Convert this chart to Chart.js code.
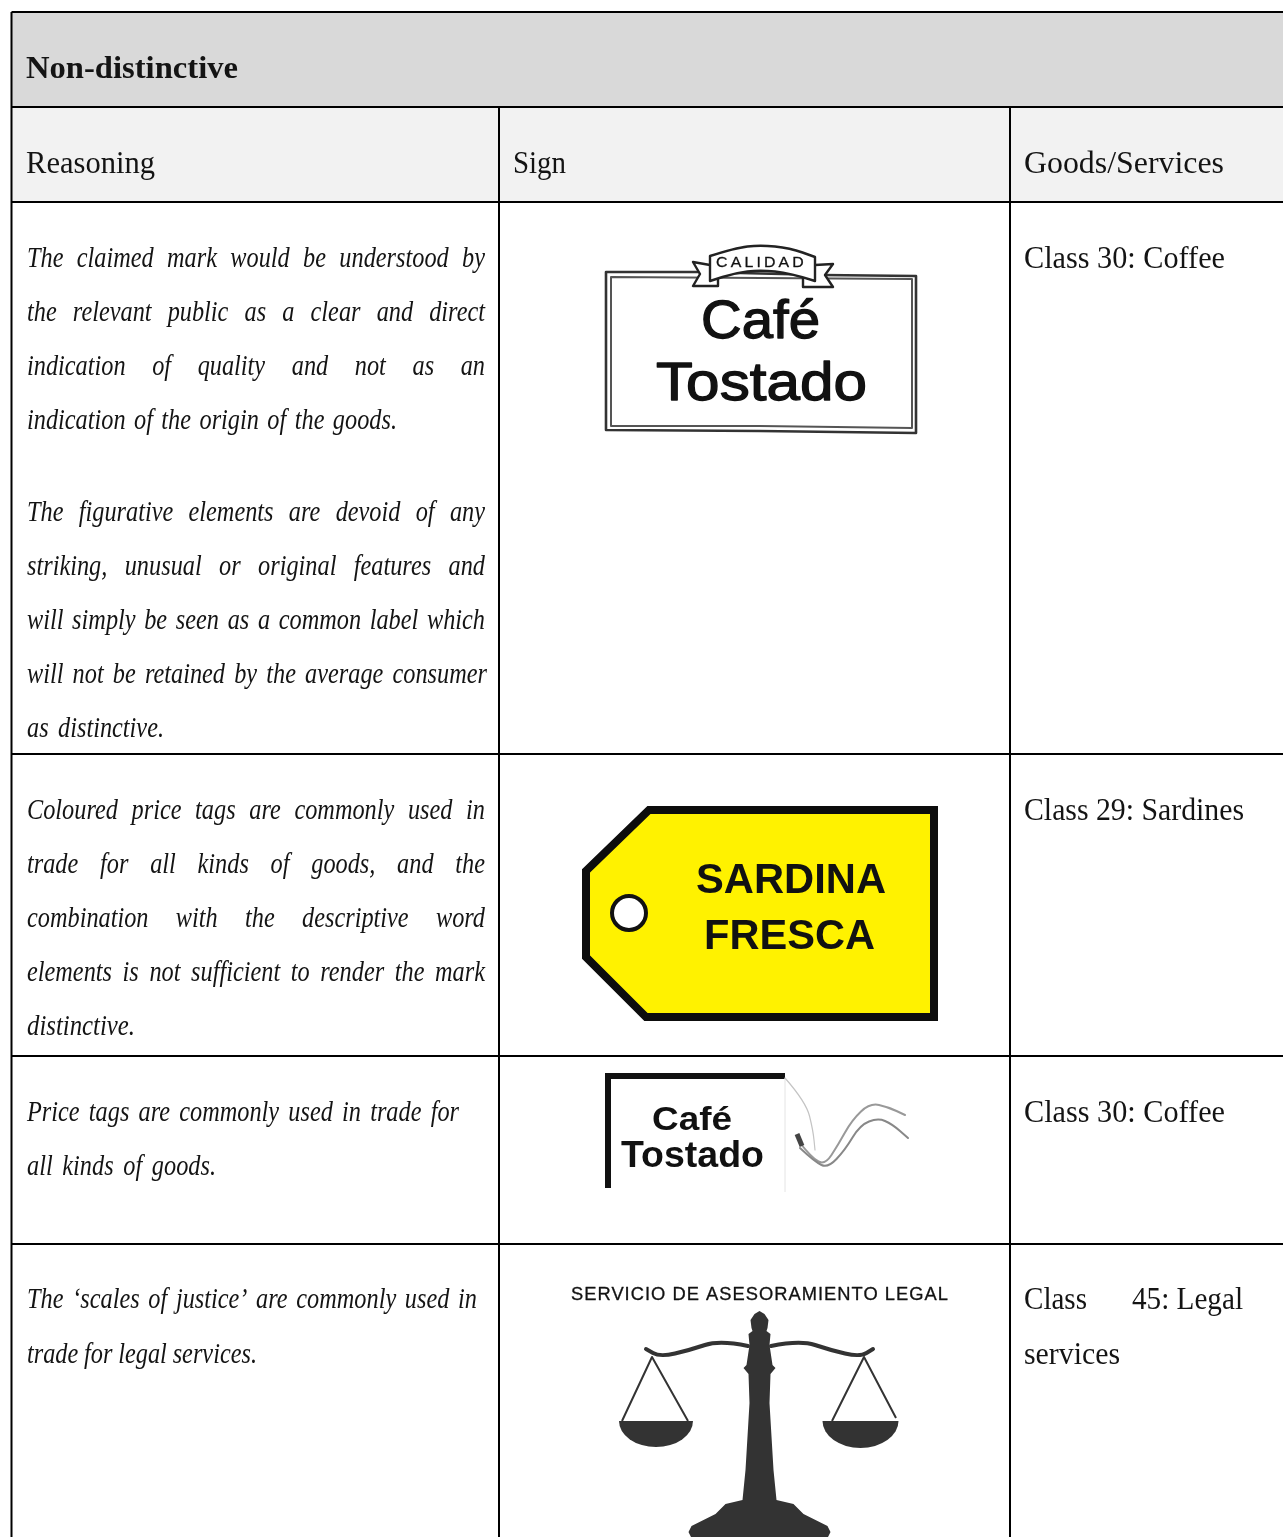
<!DOCTYPE html>
<html><head><meta charset="utf-8">
<style>html,body{margin:0;padding:0;background:#fff;overflow:hidden}canvas{display:block}</style>
<script src="https://cdn.jsdelivr.net/npm/chart.js@4"></script>
</head><body><canvas id="c" width="1283" height="1537"></canvas>
<script>
const columnEdges=[11.5,499,1010];
const rowEdges=[12,107,202,754,1056,1244];
const titleRow=[["Non-distinctive",26,238,78]];
const headerRow=[["Reasoning",26,155,173],["Sign",513,566,173],["Goods/Services",1024,1224,173]];
const reasoningLines=[
["The claimed mark would be understood by",27,485,267],
["the relevant public as a clear and direct",27,485,321],
["indication of quality and not as an",27,485,375],
["indication of the origin of the goods.",27,397,429],
["The figurative elements are devoid of any",27,485,521],
["striking, unusual or original features and",27,485,575],
["will simply be seen as a common label which",27,485,629],
["will not be retained by the average consumer",27,487,683],
["as distinctive.",27,164,737],
["Coloured price tags are commonly used in",27,485,819],
["trade for all kinds of goods, and the",27,485,873],
["combination with the descriptive word",27,485,927],
["elements is not sufficient to render the mark",27,485,981],
["distinctive.",27,135,1035],
["Price tags are commonly used in trade for",27,459,1121],
["all kinds of goods.",27,216,1175],
["The ‘scales of justice’ are commonly used in",27,477,1308],
["trade for legal services.",27,257,1363]];
const goodsLines=[
["Class 30: Coffee",1024,1225,268],
["Class 29: Sardines",1024,1244,820],
["Class 30: Coffee",1024,1225,1122],
["Class",1024,1087,1309],["45: Legal",1132,1243,1309],
["services",1024,1120,1364]];
const signTexts=[
["CALIDAD",716,807,267,"15px 'Liberation Sans'",0.3,3],
["Café",701,820,338,"54px 'Liberation Sans'",1.3,0],
["Tostado",656,867,400,"54px 'Liberation Sans'",1.3,0],
["SARDINA",696,886,893,"bold 43px 'Liberation Sans'",0,0],
["FRESCA",704,875,949,"bold 43px 'Liberation Sans'",0,0],
["Café",652,732,1130,"bold 33px 'Liberation Sans'",0,0],
["Tostado",621,764,1167,"bold 36px 'Liberation Sans'",0,0],
["SERVICIO DE ASESORAMIENTO LEGAL",571,949,1300,"18px 'Liberation Sans'",0.3,1]];
const frameOuter=[[606,272],[700,272],[822,275],[916,276],[916,433],[760,431],[606,430]];
const frameInner=[[611,277],[912,279],[912,428],[760,426],[611,426]];
const ribbonTop=[[710,256],[735,248],[760,245],[790,248],[815,257]];
const ribbonBottom=[[815,281],[790,273],[760,270],[735,273],[710,281]];
const ribbonTailL=[[710,265],[693,262],[700,274],[693,286],[718,286],[718,277]];
const ribbonTailR=[[815,265],[833,264],[825,275],[833,287],[803,287],[803,277]];
const tagOutline=[[649,810],[934,810],[934,1017],[646,1017],[586,957],[586,871]];
const tagHole=[629,913,17];
const tagCorner=[[605,1076],[785,1076]];
const tagEdge=[[608,1076],[608,1188]];
const tagFaint=[[785,1078],[785,1192]];
const tagFold=[[785,1078],[806,1102],[813,1130],[815,1150]];
const stringA=[[800,1143],[812,1158],[825,1165],[838,1145],[852,1120],[870,1103],[888,1107],[905,1115]];
const stringB=[[800,1148],[815,1162],[828,1168],[845,1150],[860,1125],[878,1118],[892,1124],[908,1138]];
const scaleCx=759.5;
const scaleHalf=[[0,1311],[5,1314],[9,1320],[8,1328],[7,1331],[11,1334],[10,1345],[13,1365],[16,1368],[11,1374],[10,1403],[14,1470],[17,1500],[34,1504],[44,1514],[58,1521],[68,1526],[71,1532],[67,1540],[0,1540]];
const beamL=[[748,1346],[720,1340],[690,1350],[660,1357],[646,1349]];
const beamR=[[771,1346],[800,1340],[830,1350],[860,1357],[873,1349]];
const stringsL=[[622,1421],[652,1357],[688,1421]];
const stringsR=[[832,1421],[864,1357],[896,1418]];
const pans=[[656,1421,37,26],[860.5,1421,38,27]];

function rulesData(){
  const pts=[];
  rowEdges.forEach(y=>{pts.push({x:columnEdges[0],y},{x:1283,y},{x:null,y:null});});
  pts.push({x:columnEdges[0],y:rowEdges[0]},{x:columnEdges[0],y:1537},{x:null,y:null});
  columnEdges.slice(1).forEach(x=>{pts.push({x,y:rowEdges[1]},{x,y:1537},{x:null,y:null});});
  return pts;
}
const ink='#141414';
const tablePlugin={id:'table',
 beforeDatasetsDraw(ch){
  const c=ch.ctx,X=ch.scales.x,Y=ch.scales.y,px=v=>X.getPixelForValue(v),py=v=>Y.getPixelForValue(v);
  c.save();
  c.fillStyle='#d9d9d9';c.fillRect(px(columnEdges[0]),py(rowEdges[0]),px(1283)-px(columnEdges[0]),py(rowEdges[1])-py(rowEdges[0]));
  c.fillStyle='#f2f2f2';c.fillRect(px(columnEdges[0]),py(rowEdges[1]),px(1283)-px(columnEdges[0]),py(rowEdges[2])-py(rowEdges[1]));
  c.restore();
 },
 afterDatasetsDraw(ch){
  const c=ch.ctx,X=ch.scales.x,Y=ch.scales.y,px=v=>X.getPixelForValue(v),py=v=>Y.getPixelForValue(v);
  const fit=(t,x0,x1,y,font,squeeze,bold,spacing)=>{
    c.save();c.font=font;c.textBaseline='alphabetic';c.textAlign='left';
    if(spacing)c.letterSpacing=spacing+'px';
    const n=t.split(' ').length;const w=c.measureText(t).width;let k=(px(x1)-px(x0))/w;
    if(squeeze&&n>1){k=squeeze;const extra=((px(x1)-px(x0))/k-w)/(n-1);c.wordSpacing=extra+'px';}
    c.translate(px(x0),py(y));c.scale(k,1);
    if(bold){c.lineWidth=bold;c.strokeStyle=c.fillStyle;c.lineJoin='round';c.strokeText(t,0,0);}
    c.fillText(t,0,0);c.restore();
  };
  c.fillStyle=ink;
  titleRow.forEach(r=>fit(r[0],r[1],r[2],r[3],"bold 31px 'Liberation Serif'"));
  headerRow.forEach(r=>fit(r[0],r[1],r[2],r[3],"31px 'Liberation Serif'"));
  goodsLines.forEach(r=>fit(r[0],r[1],r[2],r[3],"31px 'Liberation Serif'"));
  reasoningLines.forEach(r=>fit(r[0],r[1],r[2],r[3],"italic 30px 'Liberation Serif'",0.81));
  const path=(pts,close)=>{c.beginPath();pts.forEach((p,i)=>i?c.lineTo(px(p[0]),py(p[1])):c.moveTo(px(p[0]),py(p[1])));if(close)c.closePath();};
  const smooth=(pts)=>{c.beginPath();c.moveTo(px(pts[0][0]),py(pts[0][1]));
    for(let i=1;i<pts.length-1;i++){const mx=(pts[i][0]+pts[i+1][0])/2,my=(pts[i][1]+pts[i+1][1])/2;c.quadraticCurveTo(px(pts[i][0]),py(pts[i][1]),px(mx),py(my));}
    const l=pts[pts.length-1];c.lineTo(px(l[0]),py(l[1]));};
  const sstroke=(pts,w,col)=>{smooth(pts);c.lineWidth=w;c.strokeStyle=col;c.lineJoin='round';c.lineCap='round';c.stroke();};
  const stroke=(pts,w,col,close,miter)=>{path(pts,close);c.lineWidth=w;c.strokeStyle=col;c.lineJoin=miter?'miter':'round';c.lineCap='butt';c.stroke();};
  c.save();c.filter='blur(0.6px)';
  stroke(frameOuter,2.6,'#333',true);stroke(frameInner,2,'#555',true);
  c.fillStyle='#fff';
  path(ribbonTailL,false);c.fill();stroke(ribbonTailL,2.4,'#222');
  path(ribbonTailR,false);c.fill();stroke(ribbonTailR,2.4,'#222');
  smooth(ribbonTop);const rb=ribbonBottom;c.lineTo(px(rb[0][0]),py(rb[0][1]));
  for(let i=1;i<rb.length-1;i++){const mx=(rb[i][0]+rb[i+1][0])/2,my=(rb[i][1]+rb[i+1][1])/2;c.quadraticCurveTo(px(rb[i][0]),py(rb[i][1]),px(mx),py(my));}
  c.lineTo(px(rb[rb.length-1][0]),py(rb[rb.length-1][1]));c.closePath();
  c.fillStyle='#fff';c.fill();c.lineWidth=2.4;c.strokeStyle='#222';c.stroke();
  path(tagOutline,true);c.fillStyle='#fff200';c.fill();stroke(tagOutline,8,'#0d0d0d',true,true);
  c.beginPath();c.arc(px(tagHole[0]),py(tagHole[1]),tagHole[2],0,7);c.fillStyle='#fff';c.fill();c.lineWidth=4;c.strokeStyle='#111';c.stroke();
  stroke(tagCorner,6,'#111');stroke(tagEdge,6,'#111');
  stroke(tagFaint,1,'#e4e4e4');sstroke(tagFold,1.2,'#c4c4c4');
  sstroke(stringA,2,'#999');sstroke(stringB,2,'#888');
  stroke([[797,1134],[802,1146]],5,'#444');
  const outline=scaleHalf.map(p=>[scaleCx+p[0],p[1]]).concat(scaleHalf.slice().reverse().map(p=>[scaleCx-p[0],p[1]]));
  path(outline,true);c.fillStyle='#333';c.fill();
  sstroke(beamL,4,'#333');sstroke(beamR,4,'#333');
  stroke(stringsL,2,'#333');stroke(stringsR,2,'#333');
  pans.forEach(p=>{c.beginPath();c.ellipse(px(p[0]),py(p[1]),p[2],p[3],0,0,Math.PI);c.closePath();c.fillStyle='#333';c.fill();});
  c.fillStyle='#111';
  signTexts.forEach(r=>{fit(r[0],r[1],r[2],r[3],r[4],0,r[5],r[6]);});
  c.restore();
 }};
new Chart(document.getElementById('c'),{
 type:'scatter',
 data:{datasets:[{label:'rules',data:rulesData(),showLine:true,spanGaps:false,borderColor:'#000',borderWidth:2,pointRadius:0,fill:false,tension:0}]},
 options:{responsive:false,animation:false,devicePixelRatio:1,
  layout:{padding:0},
  plugins:{legend:{display:false},tooltip:{enabled:false},title:{display:false}},
  scales:{x:{type:'linear',min:0,max:1283,display:false},y:{type:'linear',min:0,max:1537,reverse:true,display:false}}},
 plugins:[tablePlugin]});
</script></body></html>
